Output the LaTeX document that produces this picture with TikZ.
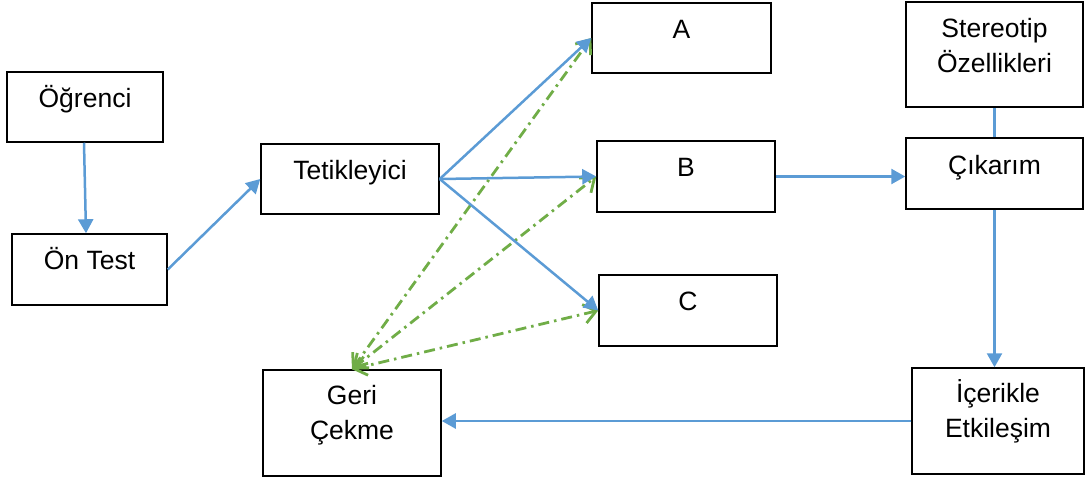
\documentclass[tikz,border=0pt]{standalone}
\usepackage{fontspec}
\setmainfont{Liberation Sans}
\usetikzlibrary{arrows.meta,calc}
\definecolor{flowblue}{HTML}{5B9BD5}
\definecolor{flowgreen}{HTML}{70AD47}
\begin{document}
\begin{tikzpicture}[x=1pt,y=-1pt,
  box/.style 2 args={draw=black, line width=1.5pt, inner sep=0pt,
    minimum width=#1, minimum height=#2},
  lbl/.style={anchor=base, inner sep=0pt, align=center,
    font=\fontsize{26.5}{35}\selectfont},
  flow/.style={draw=flowblue, line width=2.5pt,
    -{Triangle[length=14pt,width=15pt]}},
  alt/.style={draw=flowgreen, line width=2.8pt,
    dash pattern=on 11pt off 5pt on 2.5pt off 5pt,
    {Straight Barb[length=12pt,width=19pt]}-{Straight Barb[length=12pt,width=19pt]}}]
\useasboundingbox (0,0) rectangle (1086,480);

% boxes
\node[box={156}{70}]  (og)   at (85,107)    {};
\node[box={155}{71}]  (on)   at (89.5,269.5){};
\node[box={178}{70}]  (tet)  at (350,179)   {};
\node[box={179}{70}]  (a)    at (681.5,38)  {};
\node[box={178}{71}]  (b)    at (686,176.5) {};
\node[box={178}{71}]  (c)    at (688,310.5) {};
\node[box={177}{105}] (st)   at (994.5,54.5){};
\node[box={177}{71}]  (cik)  at (994.5,173.5){};
\node[box={172}{106}] (ic)   at (998,421)   {};
\node[box={178}{106}] (geri) at (352,423)   {};

% labels, set on the baseline of their last line
\node[lbl] (og-t)   at ($(og.north)+(0,36)$)   {Öğrenci};
\node[lbl] (on-t)   at ($(on.north)+(0,36)$)   {Ön Test};
\node[lbl] (tet-t)  at ($(tet.north)+(0,36)$)  {Tetikleyici};
\node[lbl] (a-t)    at ($(a.north)+(0,36)$)    {A};
\node[lbl] (b-t)    at ($(b.north)+(0,36)$)    {B};
\node[lbl] (c-t)    at ($(c.north)+(0,36)$)    {C};
\node[lbl] (st-t)   at ($(st.north)+(0,71)$)   {Stereotip\\Özellikleri};
\node[lbl] (cik-t)  at ($(cik.north)+(0,37)$)  {Çıkarım};
\node[lbl] (ic-t)   at ($(ic.north)+(0,70)$)   {İçerikle\\Etkileşim};
\node[lbl] (geri-t) at ($(geri.north)+(0,70)$) {Geri\\Çekme};

% withdrawal links
\draw[alt] (geri.north) -- (a.west);
\draw[alt] (geri.north) -- (b.west);
\draw[alt] (geri.north) -- (c.west);

% main flow
\draw[flow] ([xshift=-1pt]og.south) -- ([xshift=-3.5pt]on.north);
\draw[flow] (on.east) -- (tet.west);
\draw[flow] (tet.east) -- (a.west);
\draw[flow] (tet.east) -- (b.west);
\draw[flow] (tet.east) -- (c.west);
\draw[flow] (b.east) -- (b.east -| cik.west);
\draw[draw=flowblue, line width=2.5pt] (st.south) -- (cik.north);
\draw[flow] (cik.south) -- (cik.south |- ic.north);
\draw[flow] (ic.west) -- (ic.west -| geri.east);
\end{tikzpicture}
\end{document}
